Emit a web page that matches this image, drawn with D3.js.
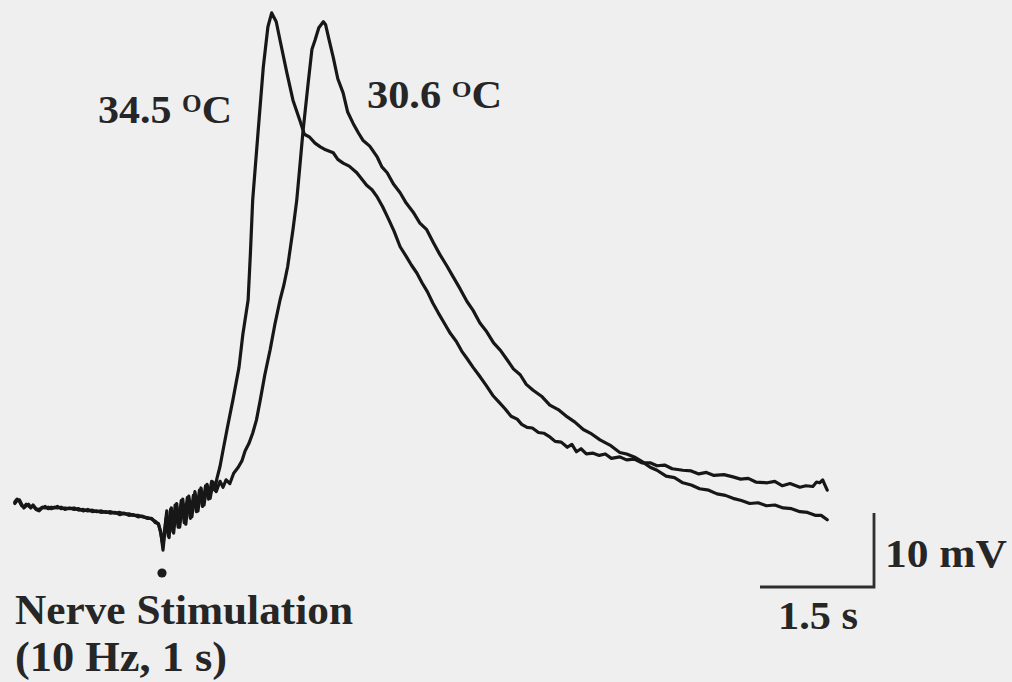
<!DOCTYPE html>
<html>
<head>
<meta charset="utf-8">
<script src="https://cdn.jsdelivr.net/npm/d3@7"></script>
<style>
  html, body { margin: 0; padding: 0; background: #efefef; }
  svg { display: block; }
  text { font-family: "Liberation Serif", "Times New Roman", serif; font-weight: bold; fill: #262626; }
</style>
</head>
<body>
<svg id="chart" width="1012" height="682"></svg>
<script>
// Membrane potential after nerve stimulation (10 Hz, 1 s) at two temperatures.
// Time in seconds from stimulus onset, potential in mV relative to rest.

const traceLabels = ["34.5", "30.6"];

const t345 = [-1.95,-1.92,-1.89,-1.86,-1.83,-1.80,-1.77,-1.74,-1.71,-1.67,-1.63,-1.59,-1.55,-1.51,-1.47,-1.43,-1.39,-1.34,-1.29,-1.23,-1.17,-1.11,-1.05,-0.99,-0.93,-0.87,-0.81,-0.75,-0.69,-0.63,-0.57,-0.51,-0.45,-0.39,-0.33,-0.27,-0.21,-0.15,-0.10,-0.06,-0.03,0.00,0.02,0.04,0.07,0.10,0.13,0.16,0.20,0.24,0.28,0.32,0.36,0.40,0.44,0.48,0.52,0.56,0.60,0.64,0.68,0.71,0.75,0.79,0.85,0.92,1.00,1.05,1.12,1.15,1.18,1.25,1.32,1.38,1.43,1.49,1.54,1.63,1.71,1.80,1.86,1.93,2.00,2.07,2.14,2.24,2.30,2.37,2.45,2.55,2.62,2.68,2.75,2.82,2.89,2.96,3.04,3.12,3.20,3.27,3.34,3.41,3.48,3.55,3.62,3.70,3.78,3.86,3.93,4.00,4.08,4.16,4.25,4.34,4.43,4.50,4.58,4.66,4.72,4.79,4.86,4.94,5.01,5.09,5.16,5.24,5.32,5.38,5.44,5.50,5.57,5.66,5.74,5.82,5.90,6.01,6.10,6.20,6.30,6.41,6.50,6.60,6.70,6.84,6.95,7.05,7.15,7.25,7.38,7.50,7.60,7.70,7.80,7.95,8.05,8.15,8.25,8.38,8.46,8.55,8.60,8.64,8.68,8.71,8.74];
const v345 = [0.2,0.6,0.7,0.1,-0.4,-0.1,0.1,-0.3,-0.1,-0.6,-0.8,-0.4,-0.2,-0.5,-0.3,-0.4,-0.2,-0.5,-0.4,-0.5,-0.4,-0.7,-0.6,-0.8,-0.7,-0.9,-0.8,-1.0,-0.9,-1.1,-1.0,-1.2,-1.2,-1.4,-1.4,-1.6,-1.7,-1.9,-2.2,-2.6,-3.6,-6.1,-4.0,-1.8,-4.2,-0.6,-3.6,0.0,-3.0,0.6,-2.4,1.0,-1.8,1.3,-0.9,2.0,-0.2,2.6,0.8,3.2,2.0,3.6,5.2,7.4,10.6,14.2,18.6,23.0,27.7,34.0,41.2,50.3,59.2,64.6,66.5,65.3,62.8,58.4,54.7,52.0,50.1,49.7,48.9,48.4,48.0,47.6,46.7,46.2,45.8,44.9,44.0,43.2,42.6,41.6,40.3,38.8,37.0,34.9,33.6,32.4,31.35,30.0,28.8,27.3,26.0,24.6,23.2,22.1,20.8,19.8,18.6,17.5,16.2,14.8,13.8,13.0,12.0,11.6,10.9,10.5,10.4,9.8,9.7,9.2,8.6,8.5,7.8,8.2,7.2,7.6,6.9,7.0,6.7,6.9,6.3,6.5,6.1,6.2,5.7,5.7,5.3,5.4,4.9,4.7,4.6,4.2,4.4,4.0,4.1,3.8,3.5,3.6,3.1,3.0,3.2,2.6,2.9,2.4,2.6,2.5,3.1,3.0,3.4,2.7,2.0];

const t306 = [-1.95,-1.92,-1.89,-1.86,-1.83,-1.80,-1.77,-1.74,-1.71,-1.67,-1.63,-1.59,-1.55,-1.51,-1.47,-1.43,-1.39,-1.34,-1.29,-1.23,-1.17,-1.11,-1.05,-0.99,-0.93,-0.87,-0.81,-0.75,-0.69,-0.63,-0.57,-0.51,-0.45,-0.39,-0.33,-0.27,-0.21,-0.15,-0.10,-0.06,-0.03,0.00,0.02,0.05,0.08,0.11,0.14,0.18,0.22,0.26,0.30,0.34,0.38,0.42,0.46,0.50,0.54,0.58,0.62,0.66,0.70,0.75,0.79,0.83,0.88,0.93,0.99,1.04,1.08,1.13,1.18,1.23,1.28,1.34,1.41,1.47,1.54,1.59,1.64,1.71,1.76,1.80,1.84,1.91,1.96,2.00,2.05,2.11,2.14,2.18,2.24,2.30,2.37,2.43,2.50,2.57,2.63,2.72,2.82,2.88,2.95,3.03,3.12,3.20,3.29,3.38,3.47,3.56,3.64,3.73,3.82,3.91,4.00,4.08,4.17,4.26,4.35,4.44,4.53,4.61,4.70,4.78,4.87,4.98,5.09,5.20,5.32,5.42,5.53,5.64,5.75,5.88,6.01,6.10,6.20,6.30,6.41,6.50,6.62,6.73,6.84,6.95,7.06,7.18,7.29,7.40,7.50,7.61,7.72,7.83,7.94,8.05,8.16,8.27,8.38,8.48,8.58,8.66,8.74];
const v306 = [0.4,0.8,0.5,-0.1,-0.3,0.1,-0.1,-0.4,0.0,-0.5,-0.6,-0.3,-0.4,-0.3,-0.5,-0.3,-0.4,-0.3,-0.6,-0.4,-0.6,-0.5,-0.8,-0.6,-0.9,-0.8,-1.0,-0.9,-1.1,-1.0,-1.3,-1.1,-1.4,-1.3,-1.6,-1.5,-1.8,-1.8,-2.4,-2.5,-3.8,-5.5,-3.5,-0.8,-4.4,-0.4,-3.8,0.2,-3.0,0.8,-2.6,1.2,-1.6,1.8,-0.8,2.3,0.0,2.8,0.9,3.1,1.8,3.2,2.4,3.4,2.9,4.3,5.1,6.0,7.3,8.3,9.7,11.5,14.2,17.6,21.0,24.3,27.7,29.7,32.2,37.2,41.2,45.7,50.3,57.0,61.6,62.8,64.5,65.3,64.9,63.1,60.5,57.6,55.7,53.1,51.6,50.3,49.3,48.5,47.0,45.7,44.9,43.4,42.2,40.8,39.6,38.1,37.2,35.4,33.9,32.4,30.8,29.2,27.5,26.3,24.6,23.4,21.9,20.9,19.6,18.4,17.6,16.3,15.5,14.7,13.5,12.9,11.9,11.2,10.2,9.6,8.8,8.1,7.1,6.9,6.5,5.9,5.1,4.7,3.9,3.7,3.0,2.7,2.2,2.0,1.5,1.3,0.9,0.6,0.2,0.3,-0.1,-0.0,-0.4,-0.5,-0.9,-1.0,-1.4,-1.4,-2.0];

// Scale bar sizes
const barSeconds = 1.5;
const barMillivolts = 10;
const barLabels = ["1.5 s", "10 mV"];
const stimLabels = ["Nerve Stimulation", "(10 Hz, 1 s)"];
const stimTime = 0;

const svg = d3.select("#chart");

const x = d3.scaleLinear().domain([-2, 9]).range([11, 847]);
const y = d3.scaleLinear().domain([-10, 70]).range([579, -13]);

const line = d3.line()
  .x(d => x(d[0]))
  .y(d => y(d[1]))
  .curve(d3.curveLinear);

const traces = [
  d3.zip(t345, v345),
  d3.zip(t306, v306)
];

svg.append("g")
  .selectAll("path")
  .data(traces)
  .join("path")
  .attr("d", line)
  .attr("fill", "none")
  .attr("stroke", "#171717")
  .attr("stroke-width", 3.2)
  .attr("stroke-linejoin", "round")
  .attr("stroke-linecap", "round");

// Temperature labels
const tempLabels = [
  { txt: traceLabels[0], x: 98, y: 123, w: 134, fs: 41 },
  { txt: traceLabels[1], x: 367, y: 108, w: 135, fs: 40 }
];
tempLabels.forEach(l => {
  const t = svg.append("text")
    .attr("x", l.x).attr("y", l.y)
    .attr("font-size", l.fs)
    .attr("textLength", l.w)
    .attr("lengthAdjust", "spacingAndGlyphs");
  t.append("tspan").text(l.txt + " ");
  t.append("tspan").attr("font-size", l.fs * 0.6).attr("dy", -11).text("O");
  t.append("tspan").attr("dy", 11).text("C");
});

// Stimulus marker and caption
svg.append("circle")
  .attr("cx", x(stimTime) - 1)
  .attr("cy", 573)
  .attr("r", 4.6)
  .attr("fill", "#1b1b1b");

svg.append("text")
  .attr("x", 15).attr("y", 624)
  .attr("font-size", 42)
  .attr("textLength", 338)
  .attr("lengthAdjust", "spacingAndGlyphs")
  .text(stimLabels[0]);

svg.append("text")
  .attr("x", 15).attr("y", 671)
  .attr("font-size", 42)
  .attr("textLength", 212)
  .attr("lengthAdjust", "spacingAndGlyphs")
  .text(stimLabels[1]);

// Scale bar: corner at bottom right
const cornerX = 874, cornerY = 587;
const barW = x(barSeconds) - x(0);
const barH = y(0) - y(barMillivolts);

svg.append("path")
  .attr("d", `M${cornerX - barW},${cornerY}H${cornerX}V${cornerY - barH}`)
  .attr("fill", "none")
  .attr("stroke", "#2e2e2e")
  .attr("stroke-width", 2.8);

svg.append("text")
  .attr("x", 778).attr("y", 629)
  .attr("font-size", 40)
  .attr("textLength", 80)
  .attr("lengthAdjust", "spacingAndGlyphs")
  .text(barLabels[0]);

svg.append("text")
  .attr("x", 885).attr("y", 567)
  .attr("font-size", 40)
  .attr("textLength", 122)
  .attr("lengthAdjust", "spacingAndGlyphs")
  .text(barLabels[1]);
</script>
</body>
</html>
